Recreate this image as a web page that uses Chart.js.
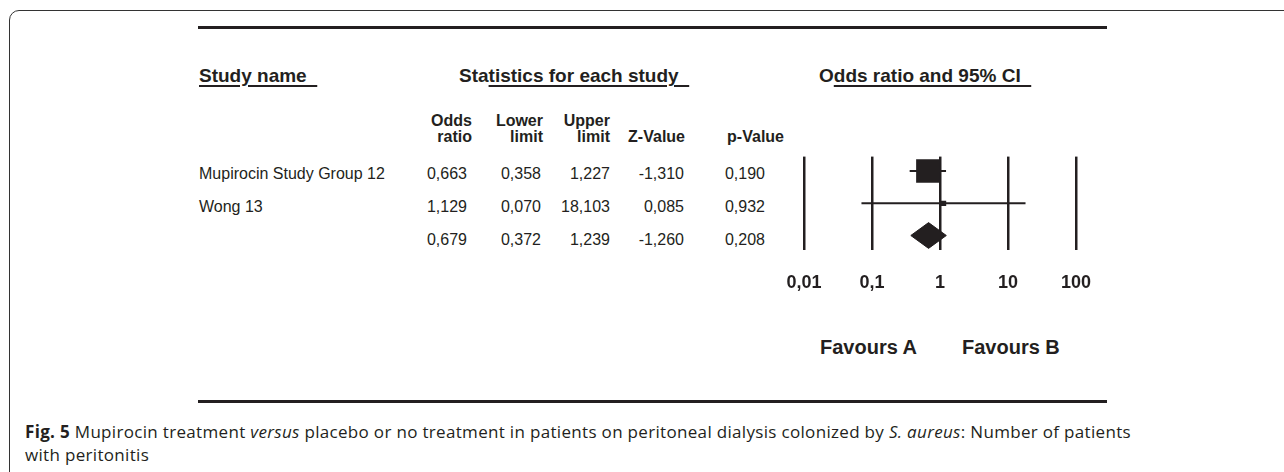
<!DOCTYPE html>
<html>
<head>
<meta charset="utf-8">
<script src="https://cdn.jsdelivr.net/npm/chart.js@4.4.1/dist/chart.umd.min.js"></script>
<style>
  html, body { margin: 0; padding: 0; background: #fff; }
  body { width: 1284px; height: 472px; position: relative; overflow: hidden;
         font-family: "Liberation Sans", Arial, sans-serif; color: #231f20; }
  .frame { position: absolute; left: 9px; top: 10px; width: 1300px; height: 480px;
           border: 1.5px solid #333; border-radius: 10px; }
  .rule { position: absolute; left: 198px; width: 909px; height: 3px; background: #231f20; }
  .t { position: absolute; white-space: nowrap; }
  .title { font-weight: bold; font-size: 19px; line-height: 22px; }
  .title u { text-decoration-thickness: 2px; text-underline-offset: 3px; }
  .head { font-weight: bold; font-size: 16px; line-height: 16px; text-align: right; }
  .cell { font-size: 16px; line-height: 18px; }
  .num { text-align: right; }
  .fav { font-weight: bold; font-size: 20px; line-height: 22px; }
  .caption { position: absolute; left: 25px; top: 420px; font-family: "Open Sans", sans-serif;
             font-size: 17px; letter-spacing: 0.32px; line-height: 23px; color: #231f20; white-space: nowrap; }
  #wrap { position: absolute; left: 760px; top: 140px; width: 360px; height: 160px; }
</style>
</head>
<body>
<div class="frame"></div>
<div class="rule" style="top:26px"></div>
<div class="rule" style="top:400px"></div>

<div class="t title" style="left:199px; top:65px"><u>Study name&nbsp;&nbsp;</u></div>
<div class="t title" style="left:459px; top:65px">Sta<u>tistics for each study&nbsp;&nbsp;</u></div>
<div class="t title" style="left:819px; top:65px">O<u>dds ratio and 95% CI&nbsp;&nbsp;</u></div>

<div id="table"></div>

<div id="wrap"><canvas id="canvas" width="360" height="160"></canvas></div>

<div class="t fav" style="left:820px; top:336px">Favours A</div>
<div class="t fav" style="left:962px; top:336px">Favours B</div>

<div class="caption"><b>Fig. 5</b> Mupirocin treatment <i>versus</i> placebo or no treatment in patients on peritoneal dialysis colonized by <i>S. aureus</i>: Number of patients<br>with peritonitis</div>

<script>
// study rows
let studies = ['Mupirocin Study Group 12', 'Wong 13'];
let oddsRatio = [0.663, 1.129];
let lowerLimit = [0.358, 0.070];
let upperLimit = [1.227, 18.103];
let zValue = [-1.310, 0.085];
let pValue = [0.190, 0.932];
// relative weight of each study (sets the square size)
let weights = [95.3, 4.7];

// pooled result
let summaryOR = 0.679;
let summaryLower = 0.372;
let summaryUpper = 1.239;
let summaryZ = -1.260;
let summaryP = 0.208;

// axis
let tickValues = [0.01, 0.1, 1, 10, 100];
let tickLabels = ['0,01', '0,1', '1', '10', '100'];

let ink = '#231f20';

function fmt(v) {
  return v.toFixed(3).replace('.', ',');
}

// ---- table (html text) ----
let table = document.getElementById('table');
let colRight = [467, 541, 610, 684, 765];
let headRight = [472, 543, 610, 685, 784];
let headTop = [['Odds', 'ratio'], ['Lower', 'limit'], ['Upper', 'limit'], [null, 'Z-Value'], [null, 'p-Value']];
let rowY = [174, 207, 240];

function addText(cls, text, style) {
  let d = document.createElement('div');
  d.className = 't ' + cls;
  d.textContent = text;
  d.setAttribute('style', style);
  table.appendChild(d);
}

headTop.forEach(function(h, c) {
  if (h[0]) addText('head', h[0], 'right:' + (1284 - headRight[c]) + 'px; top:113px');
  addText('head', h[1], 'right:' + (1284 - headRight[c]) + 'px; top:129px');
});

let rows = studies.map(function(s, i) {
  return [s, oddsRatio[i], lowerLimit[i], upperLimit[i], zValue[i], pValue[i]];
});
rows.push(['', summaryOR, summaryLower, summaryUpper, summaryZ, summaryP]);

rows.forEach(function(r, i) {
  let top = rowY[i] - 9;
  if (r[0]) addText('cell', r[0], 'left:199px; top:' + top + 'px');
  for (let c = 1; c < r.length; c++) {
    addText('cell num', fmt(r[c]), 'right:' + (1284 - colRight[c - 1]) + 'px; top:' + top + 'px');
  }
});

// ---- forest plot ----
let datasets = [];

// confidence interval lines
studies.forEach(function(s, i) {
  datasets.push({
    type: 'line',
    data: [{ x: lowerLimit[i], y: i }, { x: upperLimit[i], y: i }],
    borderColor: ink,
    borderWidth: 2,
    pointRadius: 0,
    fill: false
  });
});

// study squares, area follows weight
datasets.push({
  type: 'scatter',
  data: studies.map(function(s, i) { return { x: oddsRatio[i], y: i }; }),
  pointStyle: 'rect',
  pointRadius: weights.map(function(w) { return 1.7 * Math.sqrt(w); }),
  backgroundColor: ink,
  borderWidth: 0
});

// pooled diamond
let sy = studies.length;
datasets.push({
  type: 'line',
  data: [
    { x: summaryLower, y: sy },
    { x: summaryOR, y: sy - 0.4 },
    { x: summaryUpper, y: sy },
    { x: summaryOR, y: sy + 0.4 },
    { x: summaryLower, y: sy }
  ],
  borderColor: ink,
  borderWidth: 1,
  backgroundColor: ink,
  pointRadius: 0,
  tension: 0,
  fill: 'shape'
});

let chart = new Chart(document.getElementById('canvas'), {
  data: { datasets: datasets },
  options: {
    responsive: false,
    animation: false,
    devicePixelRatio: 1,
    layout: { padding: { left: 44, right: 44, top: 15, bottom: 5 } },
    plugins: { legend: { display: false }, tooltip: { enabled: false } },
    scales: {
      x: {
        type: 'logarithmic',
        min: 0.01,
        max: 100,
        afterBuildTicks: function(scale) {
          scale.ticks = tickValues.map(function(v) { return { value: v }; });
        },
        // fixed axis band so the plot area ends where the reference does
        afterFit: function(scale) {
          scale.height = 45;
        },
        ticks: {
          autoSkip: false,
          maxRotation: 0,
          padding: 22,
          color: ink,
          font: { family: '"Liberation Sans", Arial, sans-serif', size: 18, weight: 'bold' },
          callback: function(v) {
            let k = tickValues.indexOf(v);
            return k >= 0 ? tickLabels[k] : '';
          }
        },
        grid: { color: ink, lineWidth: 2.5, drawTicks: false },
        border: { display: false }
      },
      y: {
        type: 'linear',
        min: -0.45,
        max: 2.45,
        reverse: true,
        display: false
      }
    }
  }
});
</script>
</body>
</html>
